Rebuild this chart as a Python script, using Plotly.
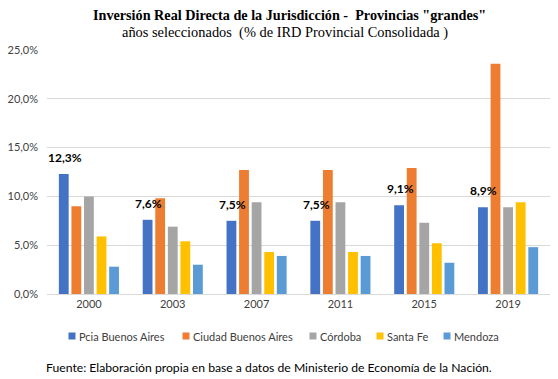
import plotly.graph_objects as go

years = ["2000", "2003", "2007", "2011", "2015", "2019"]
pcia_ba = [12.3, 7.6, 7.5, 7.5, 9.1, 8.9]
ciudad_ba = [9.0, 9.8, 12.7, 12.7, 12.9, 23.6]
cordoba = [10.0, 6.9, 9.4, 9.4, 7.3, 8.9]
santa_fe = [5.9, 5.4, 4.3, 4.3, 5.2, 9.4]
mendoza = [2.8, 3.0, 3.9, 3.9, 3.2, 4.8]

series = [
    ("Pcia Buenos Aires", pcia_ba, "#4472C4"),
    ("Ciudad Buenos Aires", ciudad_ba, "#ED7D31"),
    ("Córdoba", cordoba, "#A5A5A5"),
    ("Santa Fe", santa_fe, "#FFC000"),
    ("Mendoza", mendoza, "#5B9BD5"),
]

W, H = 558, 379
L, R, T, B = 47, 8, 50, 85
PW, PH = W - L - R, H - T - B
BARGAP = 0.25

def px_x(px):
    return (px - L) / PW

def px_y(py):
    return (H - B - py) / PH

fig = go.Figure()
for i, (name, vals, col) in enumerate(series):
    fig.add_trace(go.Bar(x=years, y=vals, name=name, marker=dict(color=col, line_width=0),
                         showlegend=False))

annotations = [
    dict(text="<b>Inversión Real Directa de la Jurisdicción -  Provincias \"grandes\"</b>",
         x=px_x(289), y=px_y(15), font=dict(family="Liberation Serif", size=14.2, color="black")),
    dict(text="años seleccionados  (% de IRD Provincial Consolidada )",
         x=px_x(285), y=px_y(32), font=dict(family="Liberation Serif", size=14.4, color="black")),
    dict(text="Fuente: Elaboración propia en base a datos de Ministerio de Economía de la Nación.",
         x=px_x(269), y=px_y(367), font=dict(family="Lato", size=12.2, color="black")),
]
# data labels on the first series (Pcia Buenos Aires); x is the category index
cat_px = PW / len(years)
slot = cat_px * (1 - BARGAP) / len(series)
first_offset = -slot * (len(series) - 1) / 2
for idx, v in enumerate(pcia_ba):
    annotations.append(dict(text=f"{v:.1f}%".replace(".", ","), x=idx, y=v, xref="x", yref="y",
                            xshift=first_offset + 1, yshift=7, yanchor="bottom",
                            showarrow=False,
                            font=dict(family="Lato", size=12, color="black", weight="bold")))
shapes = []
leg_x = [69, 183, 310, 377, 444]
leg_y = 336
for (name, vals, col), lx in zip(series, leg_x):
    shapes.append(dict(type="rect", xref="paper", yref="paper",
                       xsizemode="pixel", ysizemode="pixel",
                       xanchor=px_x(lx + 3), yanchor=px_y(leg_y),
                       x0=-3.5, x1=3.5, y0=-3.5, y1=3.5,
                       fillcolor=col, line_width=0))
    annotations.append(dict(text=name, x=px_x(lx + 8), y=px_y(leg_y), xanchor="left",
                            font=dict(family="Lato", size=11, color="#404040")))
for a in annotations:
    a.setdefault("xref", "paper")
    a.setdefault("yref", "paper")
    a.setdefault("showarrow", False)
    a.setdefault("yanchor", "middle")

fig.update_layout(
    width=W, height=H,
    paper_bgcolor="white", plot_bgcolor="white",
    barmode="group", bargap=BARGAP, bargroupgap=0.22,
    separators=",.",
    margin=dict(l=L, r=R, t=T, b=B, autoexpand=False),
    font=dict(family="Lato", size=11, color="#404040"),
    showlegend=False,
    annotations=annotations,
    shapes=shapes,
)
fig.update_yaxes(range=[0, 25], dtick=5, tickformat=".1f", ticksuffix="%",
                 showgrid=True, gridcolor="#D9D9D9", gridwidth=1, zeroline=False,
                 showline=False, tickfont=dict(size=11, color="#404040"), ticklabelstandoff=8)
fig.update_xaxes(type="category", range=[-0.5, len(years) - 0.5], showline=True,
                 linecolor="#D9D9D9", linewidth=1, ticks="",
                 tickfont=dict(size=11, color="#404040"))
fig.write_html("out.html", config={"displayModeBar": False},
               post_script="document.body.style.margin='0px';")
